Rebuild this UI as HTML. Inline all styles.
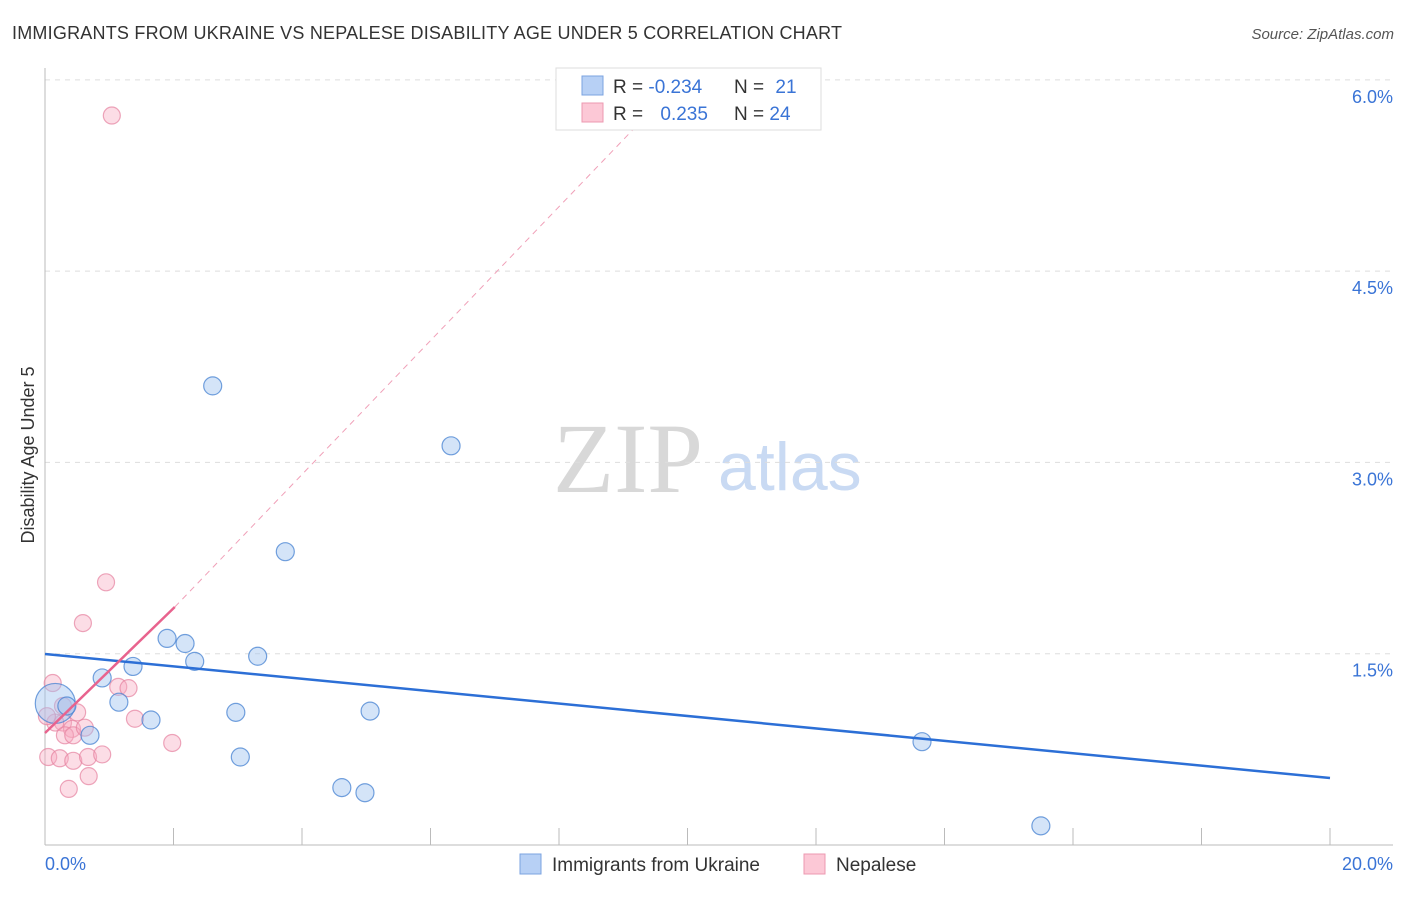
<!DOCTYPE html>
<html><head><meta charset="utf-8"><style>
body{margin:0;background:#fff;font-family:"Liberation Sans",sans-serif}
svg text{font-family:"Liberation Sans",sans-serif}
</style></head><body>
<svg id="c" width="1406" height="892">
<text x="12" y="39" font-size="18" fill="#333" textLength="830">IMMIGRANTS FROM UKRAINE VS NEPALESE DISABILITY AGE UNDER 5 CORRELATION CHART</text>
<text x="1394" y="39" font-size="15" fill="#555" font-style="italic" text-anchor="end">Source: ZipAtlas.com</text>
<text x="34" y="455" font-size="18" fill="#333" text-anchor="middle" transform="rotate(-90 34 455)">Disability Age Under 5</text>
<text x="553" y="492" font-size="100" fill="#d8d8d8" style="font-family:'Liberation Serif',serif">ZIP</text>
<text x="718" y="490" font-size="68" fill="#c9daf3">atlas</text>
<g id="grid"></g><g id="marks"></g>
<g>
<rect x="556" y="68" width="265" height="62" fill="#fff" stroke="#ddd"/>
<rect x="582" y="76" width="21" height="19" fill="#b7d0f5" stroke="#7ba3e0"/>
<rect x="582" y="103" width="21" height="19" fill="#fcc8d6" stroke="#ec99b0"/>
<text x="613" y="93" font-size="19" fill="#333">R = <tspan fill="#3a74d6">-0.234</tspan></text>
<text x="734" y="93" font-size="19" fill="#333">N = <tspan fill="#3a74d6" dx="6">21</tspan></text>
<text x="613" y="120" font-size="19" fill="#333">R = <tspan fill="#3a74d6" dx="12">0.235</tspan></text>
<text x="734" y="120" font-size="19" fill="#333">N = <tspan fill="#3a74d6">24</tspan></text>
</g>
<g>
<rect x="520" y="854" width="21" height="20" fill="#b7d0f5" stroke="#7ba3e0"/>
<text x="552" y="871" font-size="19" fill="#333">Immigrants from Ukraine</text>
<rect x="804" y="854" width="21" height="20" fill="#fcc8d6" stroke="#ec99b0"/>
<text x="836" y="871" font-size="19" fill="#333">Nepalese</text>
</g>
</svg>
<script>
const xTicks=[0,2,4,6,8,10,12,14,16,18,20];
const yTicks=[1.5,3.0,4.5,6.0];
const ukrX=[0.16,0.34,0.70,0.89,1.15,1.37,1.65,1.90,2.18,2.33,2.61,2.97,3.04,3.31,3.74,4.62,4.98,5.06,6.32,13.65,15.50];
const ukrY=[1.11,1.09,0.86,1.31,1.12,1.40,0.98,1.62,1.58,1.44,3.60,1.04,0.69,1.48,2.30,0.45,0.41,1.05,3.13,0.81,0.15];
const ukrR=[20,9,9,9,9,9,9,9,9,9,9,9,9,9,9,9,9,9,9,9,9];
const nepX=[1.04,0.95,0.59,0.12,1.14,1.30,1.40,1.98,0.50,0.28,0.16,0.42,0.31,0.44,0.05,0.23,0.44,0.67,0.89,0.68,0.37,0.03,0.28,0.62];
const nepY=[5.72,2.06,1.74,1.27,1.24,1.23,0.99,0.80,1.04,0.96,0.96,0.91,0.86,0.86,0.69,0.68,0.66,0.69,0.71,0.54,0.44,1.01,1.09,0.92];
const ukrTrend=[[0,1.498],[20,0.525]];
const nepTrendSolid=[[0,0.878],[2.02,1.866]];
const nepTrendDash=[[2.02,1.866],[9.8,5.95]];
const NS='http://www.w3.org/2000/svg';
const X=v=>45+v*64.25, Y=v=>845-v*127.53;
const grid=document.getElementById('grid'), marks=document.getElementById('marks');
function mk(p,tag,a){const e=document.createElementNS(NS,tag);for(const k in a)e.setAttribute(k,a[k]);p.appendChild(e);return e;}
yTicks.forEach(t=>{
 const g=mk(grid,'line',{x1:45,x2:1393,y1:Y(t),y2:Y(t),stroke:'#ddd','stroke-dasharray':'5,5'});
 
 
 const l=mk(grid,'text',{x:1393,y:Y(t)+23,'font-size':18,fill:'#3a74d6','text-anchor':'end'});
 l.textContent=t.toFixed(1)+'%';
 
 
});
const ax=mk(grid,'line',{x1:45,x2:45,y1:68,y2:845,stroke:'#bbb'});


const bx=mk(grid,'line',{x1:45,x2:1393,y1:845,y2:845,stroke:'#bbb'});


xTicks.forEach(t=>{
 const k=mk(grid,'line',{x1:X(t),x2:X(t),y1:828,y2:845,stroke:'#bbb'});
 
 
});
[[0,'start'],[20,'end']].forEach(([t,a])=>{
 const l=mk(grid,'text',{x:t===0?45:1393,y:870,'font-size':18,fill:'#3a74d6','text-anchor':a});
 l.textContent=t.toFixed(1)+'%';
 
 
});
nepX.forEach((v,i)=>{
 const c=mk(marks,'circle',{cx:X(v),cy:Y(nepY[i]),r:8.5,fill:'rgba(248,170,192,0.4)',stroke:'rgba(230,130,160,0.7)','stroke-width':1.2});
 
 
});
ukrX.forEach((v,i)=>{
 const c=mk(marks,'circle',{cx:X(v),cy:Y(ukrY[i]),r:ukrR[i],fill:'rgba(160,195,240,0.45)',stroke:'rgba(70,130,210,0.75)','stroke-width':1.2});
 
 
});
const t1=mk(marks,'line',{x1:X(ukrTrend[0][0]),y1:Y(ukrTrend[0][1]),x2:X(ukrTrend[1][0]),y2:Y(ukrTrend[1][1]),stroke:'#2c6fd6','stroke-width':2.5});


const t2=mk(marks,'line',{x1:X(nepTrendSolid[0][0]),y1:Y(nepTrendSolid[0][1]),x2:X(nepTrendSolid[1][0]),y2:Y(nepTrendSolid[1][1]),stroke:'#e8638e','stroke-width':2.5});


const t3=mk(marks,'line',{x1:X(nepTrendDash[0][0]),y1:Y(nepTrendDash[0][1]),x2:X(nepTrendDash[1][0]),y2:Y(nepTrendDash[1][1]),stroke:'#f0a0b8','stroke-width':1,'stroke-dasharray':'6,5'});


</script>
</body></html>
